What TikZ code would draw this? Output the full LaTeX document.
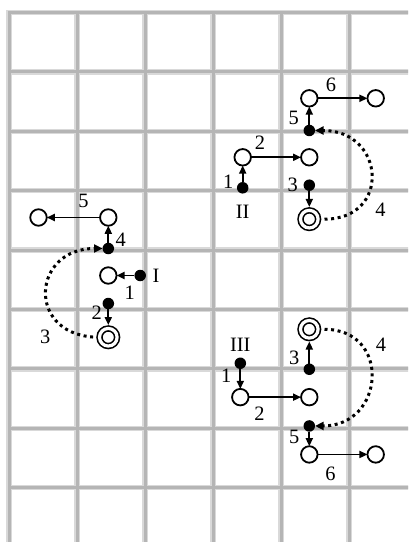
\documentclass[tikz,border=0pt]{standalone}
\usepackage{fontspec}
\setmainfont{Liberation Serif}
\usetikzlibrary{arrows.meta, positioning}

\begin{document}
\begin{tikzpicture}[
  x=1bp, y=-1bp,
  font=\fontsize{20.5}{21}\selectfont,
  gridwide/.style={line width=5.5bp, black!15, line cap=rect},
  gridcore/.style={line width=3bp, black!29, line cap=rect},
  site/.style={circle, draw, line width=1.8bp, fill=white, minimum size=16.5bp,
               inner sep=0pt, outer sep=0pt},
  ball/.style={circle, fill=black, minimum size=11.5bp, inner sep=0pt, outer sep=0pt},
  well/.style={circle, draw, double, double distance=3.2bp, line width=1.6bp,
               fill=white, minimum size=17.6bp, inner sep=0pt, outer sep=3.4bp},
  arr/.style={-{Triangle[length=8bp, width=7bp]}, line width=1.8bp},
  hop/.style={-{Triangle[length=8.5bp, width=8bp]}, line width=3bp,
              dash pattern=on 3bp off 3.6bp, shorten <=3bp},
  lbl/.style={inner sep=1bp}
]
\fill[white] (0,0) rectangle (408,542);
\useasboundingbox (0,0) rectangle (408,542);
\begin{scope}
  \clip (0,0) rectangle (408,542);
  \foreach \gx in {0,...,5}
    \draw[gridwide] ({9+68*\gx},12.5) -- ({9+68*\gx},560);
  \foreach \gy in {0,...,8}
    \draw[gridwide] (9,{12.5+59.4*\gy}) -- (420,{12.5+59.4*\gy});
  \foreach \gx in {0,...,5}
    \draw[gridcore] ({9+68*\gx},12.5) -- ({9+68*\gx},560);
  \foreach \gy in {0,...,8}
    \draw[gridcore] (9,{12.5+59.4*\gy}) -- (420,{12.5+59.4*\gy});
\end{scope}

% I
\node (Itop) [site] at (108.3,217.5) {};
\node (Iend) [site, left=53.3bp of Itop] {};
\node (Ib4) [ball, below=17bp of Itop] {};
\node (Imid) [site, below=13bp of Ib4] {};
\node (Ib1) [ball, right=17.9bp of Imid] {};
\node (Ib2) [ball, below=14bp of Imid] {};
\node (Iwell) [well, below=15.8bp of Ib2] {};
\node (Iname) [lbl, right=5.5bp of Ib1] {I};
\draw[arr] (Ib1) -- (Imid) node[lbl, pos=0.27, below=8.5bp] {1};
\draw[arr] (Ib2) -- (Iwell) node[lbl, pos=0.23, left=4.5bp] {2};
\draw[hop] (Iwell.west) .. controls +(-70,-5) and +(-70,0) .. (Ib4.west)
  node[lbl, pos=0.25, below left=6bp and 5bp] {3};
\draw[arr] (Ib4) -- (Itop) node[lbl, pos=0.2, right=5.5bp] {4};
\draw[arr] (Itop) -- (Iend) node[lbl, pos=0.31, above=7.5bp] {5};

% II
\node (IIs6) [site] at (309.3,98.3) {};
\node (IIs6e) [site, right=49.9bp of IIs6] {};
\node (IIb5) [ball, below=18.2bp of IIs6] {};
\node (IIs2e) [site, below=12.8bp of IIb5] {};
\node (IIs2) [site, left=50.1bp of IIs2e] {};
\node (IIb1) [ball, below=16.5bp of IIs2] {};
\node (IIb3) [ball, below=13.9bp of IIs2e] {};
\node (IIwell) [well, below=16bp of IIb3] {};
\node (IIname) [lbl, below=10.5bp of IIb1] {II};
\node (IIl3) [lbl, left=4.5bp of IIb3] {3};
\draw[arr] (IIb1) -- (IIs2) node[lbl, pos=0, left=7.5bp] {1};
\draw[arr] (IIs2) -- (IIs2e) node[lbl, pos=0.18, above=6bp] {2};
\draw[arr] (IIb3) -- (IIwell);
\draw[hop] (IIwell.east) .. controls +(70,0) and +(70,0) .. (IIb5.east)
  node[lbl, pos=0.2, right=18.5bp] {4};
\draw[arr] (IIb5) -- (IIs6) node[lbl, pos=0.4, left=8.5bp] {5};
\draw[arr] (IIs6) -- (IIs6e) node[lbl, pos=0.27, above=4.5bp] {6};

% III
\node (IIIwell) [well] at (309.3,329.3) {};
\node (IIIb3) [ball, below=22bp of IIIwell] {};
\node (IIIs2e) [site, below=13.9bp of IIIb3] {};
\node (IIIs2) [site, left=52.5bp of IIIs2e] {};
\node (IIIb1) [ball, above=19.9bp of IIIs2] {};
\node (IIIb5) [ball, below=14.8bp of IIIs2e] {};
\node (IIIs6) [site, below=14.5bp of IIIb5] {};
\node (IIIs6e) [site, right=49.9bp of IIIs6] {};
\node (IIIname) [lbl, above=5bp of IIIb1] {III};
\draw[arr] (IIIb1) -- (IIIs2) node[lbl, pos=0.32, left=7bp] {1};
\draw[arr] (IIIs2) -- (IIIs2e) node[lbl, pos=0.21, below=7.5bp] {2};
\draw[arr] (IIIb3) -- (IIIwell) node[lbl, pos=0.25, left=8bp] {3};
\draw[hop] (IIIwell.east) .. controls +(70,0) and +(70,0) .. (IIIb5.east)
  node[lbl, pos=0.25, right=13.5bp] {4};
\draw[arr] (IIIb5) -- (IIIs6) node[lbl, pos=0.34, left=8bp] {5};
\draw[arr] (IIIs6) -- (IIIs6e) node[lbl, pos=0.26, below=10.5bp] {6};
\end{tikzpicture}
\end{document}
